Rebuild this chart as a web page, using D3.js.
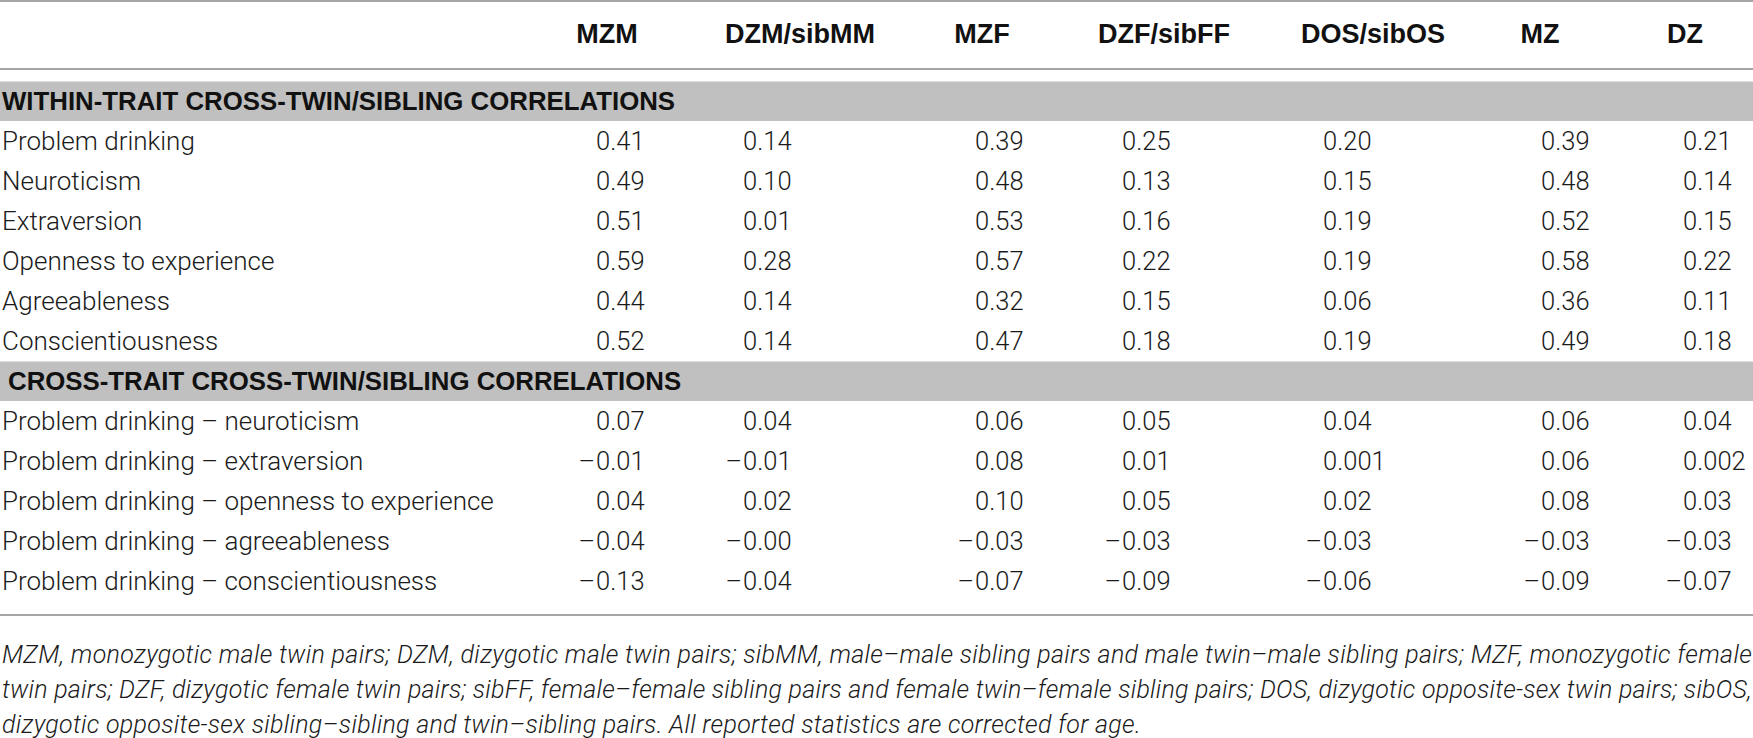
<!DOCTYPE html>
<html>
<head>
<meta charset="utf-8">
<script src="https://cdn.jsdelivr.net/npm/d3@7"></script>
<style>
  html, body { margin: 0; padding: 0; background: #fff; }
  svg { display: block; }
</style>
</head>
<body>
<svg id="chart" width="1753" height="738"></svg>
<script>
// ---------- DATA ----------
const columns = ["MZM", "DZM/sibMM", "MZF", "DZF/sibFF", "DOS/sibOS", "MZ", "DZ"];

const section1Title = "WITHIN-TRAIT CROSS-TWIN/SIBLING CORRELATIONS";
const section1Rows = ["Problem drinking", "Neuroticism", "Extraversion", "Openness to experience", "Agreeableness", "Conscientiousness"];
const section1Values = [
  ["0.41", "0.14", "0.39", "0.25", "0.20", "0.39", "0.21"],
  ["0.49", "0.10", "0.48", "0.13", "0.15", "0.48", "0.14"],
  ["0.51", "0.01", "0.53", "0.16", "0.19", "0.52", "0.15"],
  ["0.59", "0.28", "0.57", "0.22", "0.19", "0.58", "0.22"],
  ["0.44", "0.14", "0.32", "0.15", "0.06", "0.36", "0.11"],
  ["0.52", "0.14", "0.47", "0.18", "0.19", "0.49", "0.18"]
];

const section2Title = "CROSS-TRAIT CROSS-TWIN/SIBLING CORRELATIONS";
const section2Rows = ["Problem drinking – neuroticism", "Problem drinking – extraversion", "Problem drinking – openness to experience", "Problem drinking – agreeableness", "Problem drinking – conscientiousness"];
const section2Values = [
  ["0.07", "0.04", "0.06", "0.05", "0.04", "0.06", "0.04"],
  ["–0.01", "–0.01", "0.08", "0.01", "0.001", "0.06", "0.002"],
  ["0.04", "0.02", "0.10", "0.05", "0.02", "0.08", "0.03"],
  ["–0.04", "–0.00", "–0.03", "–0.03", "–0.03", "–0.03", "–0.03"],
  ["–0.13", "–0.04", "–0.07", "–0.09", "–0.06", "–0.09", "–0.07"]
];

const footnoteLines = [
  "MZM, monozygotic male twin pairs; DZM, dizygotic male twin pairs; sibMM, male–male sibling pairs and male twin–male sibling pairs; MZF, monozygotic female",
  "twin pairs; DZF, dizygotic female twin pairs; sibFF, female–female sibling pairs and female twin–female sibling pairs; DOS, dizygotic opposite-sex twin pairs; sibOS,",
  "dizygotic opposite-sex sibling–sibling and twin–sibling pairs. All reported statistics are corrected for age."
];

// ---------- LAYOUT ----------
const W = 1753;
const LIGHT = "'Roboto', 'Liberation Sans', Arial, sans-serif";
const BOLD = "'Liberation Sans', Arial, Helvetica, sans-serif";
const TEXT = "#1a1a1a";
const svg = d3.select("#chart");

// header centres and value left edges (layout only)
const headerX = d3.scaleOrdinal().domain(columns).range([607, 800, 982, 1164, 1373, 1540, 1685]);
const valueX = d3.scaleOrdinal().domain(columns).range([596, 743, 975, 1122, 1323, 1541, 1683]);
// slot index -> vertical centre (40px grid)
const y = d3.scaleLinear().domain([0, 1]).range([101, 141]);

// rules
svg.append("rect").attr("x", 0).attr("y", 0).attr("width", W).attr("height", 2).attr("fill", "#a6a6a6");
svg.append("rect").attr("x", 0).attr("y", 68).attr("width", W).attr("height", 2).attr("fill", "#a6a6a6");

// header
svg.append("g").selectAll("text").data(columns).join("text")
  .attr("x", d => headerX(d)).attr("y", 33).attr("dy", "0.36em")
  .attr("text-anchor", "middle")
  .style("font-family", BOLD).style("font-weight", 700).style("font-size", "27px")
  .attr("fill", "#111")
  .text(d => d);

// sections
const sections = [
  { title: section1Title, rows: section1Rows, values: section1Values, slot: 0, indent: 2 },
  { title: section2Title, rows: section2Rows, values: section2Values, slot: 7, indent: 8 }
];

sections.forEach(sec => {
  const g = svg.append("g");
  g.append("rect")
    .attr("x", 0).attr("y", y(sec.slot) - 19.5).attr("width", W).attr("height", 39.5)
    .attr("fill", "#c0c0c0");
  g.append("text")
    .attr("x", sec.indent).attr("y", y(sec.slot)).attr("dy", "0.36em")
    .style("font-family", BOLD).style("font-weight", 700).style("font-size", "25.8px")
    .attr("fill", "#111")
    .text(sec.title);

  sec.rows.forEach((label, i) => {
    const cy = y(sec.slot + 1 + i);
    g.append("text")
      .attr("x", 2).attr("y", cy).attr("dy", "0.36em")
      .style("font-family", LIGHT).style("font-weight", 300).style("font-size", "26px")
      .attr("fill", TEXT)
      .text(label);

    const cells = columns.map((c, j) => ({ col: c, v: sec.values[i][j] }));
    const cg = g.append("g");
    cg.selectAll("text.abs").data(cells).join("text")
      .attr("class", "abs")
      .attr("x", d => valueX(d.col)).attr("y", cy).attr("dy", "0.36em")
      .style("font-family", LIGHT).style("font-weight", 300).style("font-size", "25.5px")
      .attr("fill", TEXT)
      .text(d => d.v.replace("–", ""));
    cg.selectAll("text.neg").data(cells.filter(d => d.v.startsWith("–"))).join("text")
      .attr("class", "neg")
      .attr("x", d => valueX(d.col) - 1).attr("y", cy).attr("dy", "0.36em")
      .attr("text-anchor", "end")
      .style("font-family", LIGHT).style("font-weight", 300).style("font-size", "25.5px")
      .attr("fill", TEXT)
      .text("–");
  });
});

// bottom rule
svg.append("rect").attr("x", 0).attr("y", 614).attr("width", W).attr("height", 2).attr("fill", "#a6a6a6");

// footnote (baselines)
const fy = d3.scaleLinear().domain([0, 1]).range([663, 697.75]);
svg.append("g").selectAll("text").data(footnoteLines).join("text")
  .attr("x", 2).attr("y", (d, i) => fy(i))
  .attr("textLength", (d, i) => i < 2 ? W - 3 : null)
  .attr("lengthAdjust", "spacing")
  .style("font-family", LIGHT).style("font-weight", 300).style("font-style", "italic")
  .style("font-size", "25px").style("letter-spacing", "0.3px")
  .attr("fill", TEXT)
  .text(d => d);
</script>
</body>
</html>
